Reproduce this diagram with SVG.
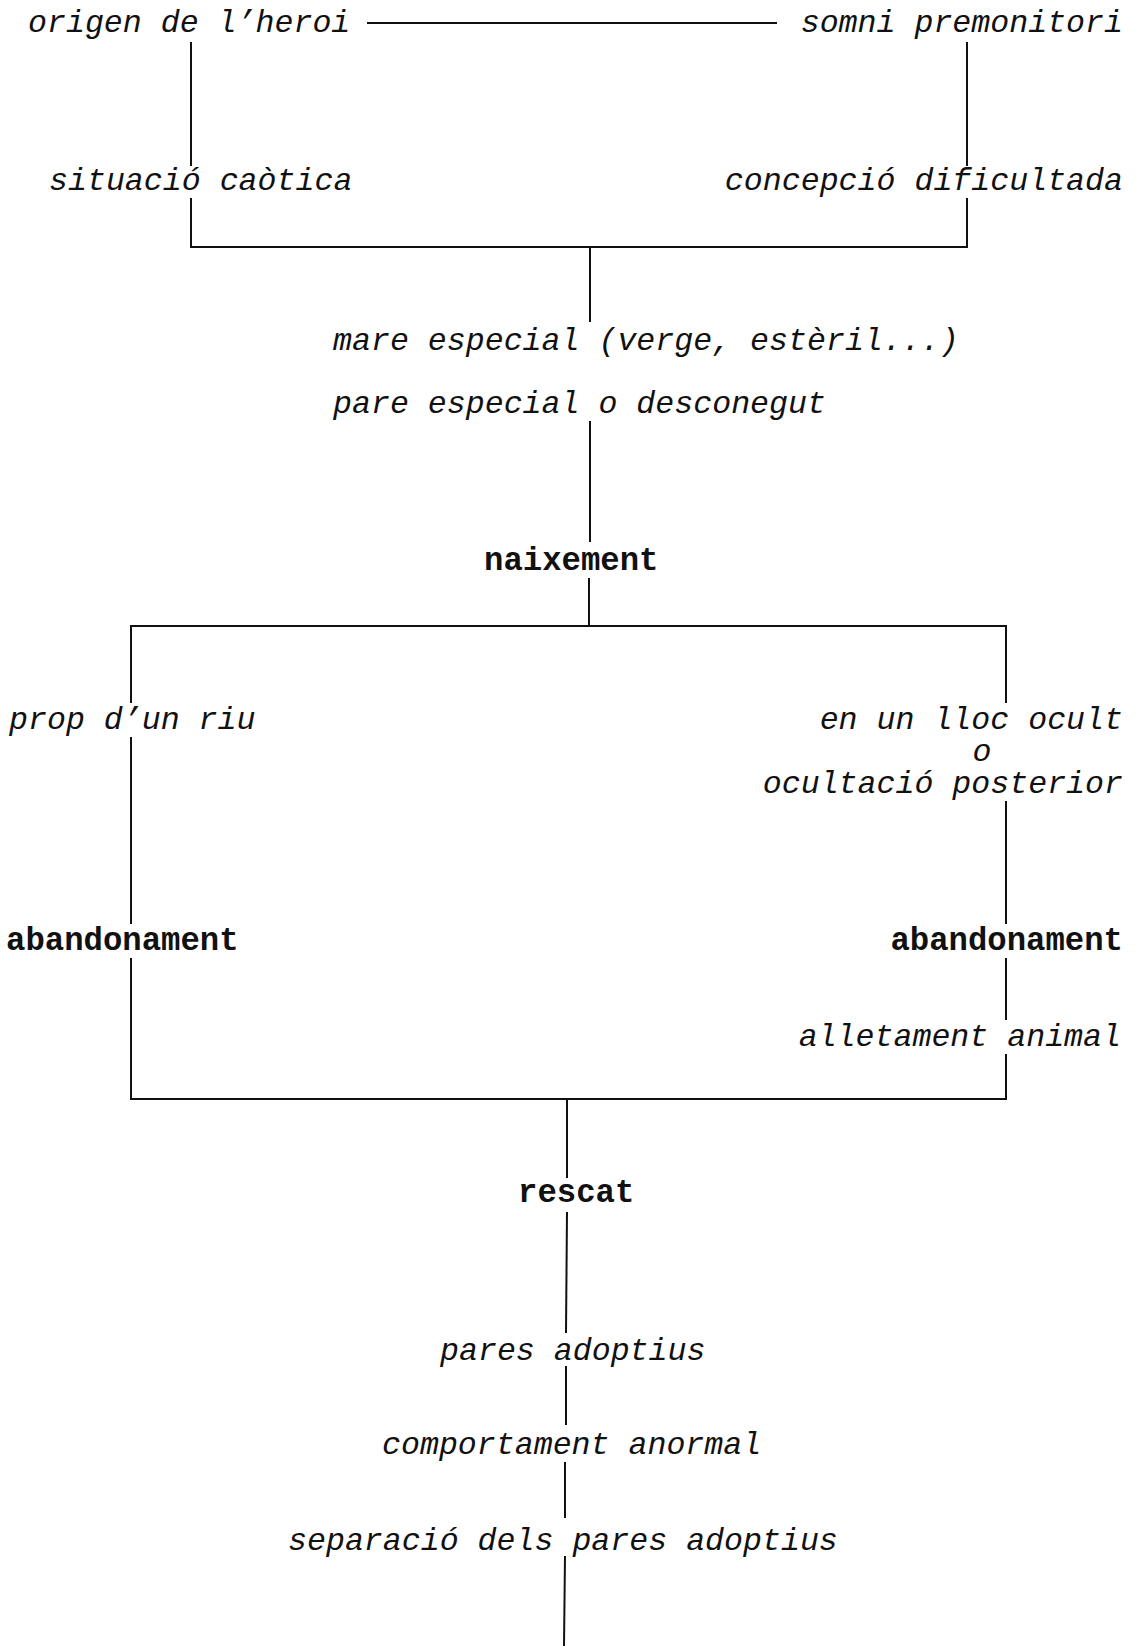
<svg xmlns="http://www.w3.org/2000/svg" width="1137" height="1646" viewBox="0 0 1137 1646">
<style>
text{font-family:"Liberation Mono","DejaVu Sans Mono",monospace;font-size:31.6px;fill:#111}
.i{font-style:italic}
.b{font-weight:bold;font-size:32.3px}
.e{text-anchor:end}
.m{text-anchor:middle}
#connectors line{stroke:#111;stroke-width:2}
</style>
<rect width="1137" height="1646" fill="#fff"/>
<g id="connectors">
<line x1="367" y1="23" x2="777" y2="23"/>
<line x1="191" y1="42" x2="191" y2="166"/>
<line x1="191" y1="198" x2="191" y2="248"/>
<line x1="967" y1="42" x2="967" y2="166"/>
<line x1="967" y1="198" x2="967" y2="248"/>
<line x1="190" y1="247" x2="968" y2="247"/>
<line x1="590" y1="247" x2="590" y2="322"/>
<line x1="590" y1="421" x2="590" y2="542"/>
<line x1="589" y1="578" x2="589" y2="626"/>
<line x1="130" y1="626" x2="1007" y2="626"/>
<line x1="131" y1="626" x2="131" y2="703"/>
<line x1="131" y1="737" x2="131" y2="924"/>
<line x1="131" y1="958" x2="131" y2="1100"/>
<line x1="1006" y1="626" x2="1006" y2="703"/>
<line x1="1006" y1="801" x2="1006" y2="924"/>
<line x1="1006" y1="958" x2="1006" y2="1020"/>
<line x1="1006" y1="1054" x2="1006" y2="1100"/>
<line x1="130" y1="1099" x2="1007" y2="1099"/>
<line x1="567" y1="1099" x2="567" y2="1178"/>
<line x1="567" y1="1212" x2="566" y2="1333"/>
<line x1="566" y1="1366" x2="566" y2="1425"/>
<line x1="565" y1="1462" x2="565" y2="1518"/>
<line x1="565" y1="1556" x2="564" y2="1646"/>
</g>
<g id="n-origen"><text class="i" x="28" y="32">origen de l’heroi</text></g>
<g id="n-somni"><text class="i e" x="1123" y="32">somni premonitori</text></g>
<g id="n-situacio"><text class="i" x="49" y="190">situació caòtica</text></g>
<g id="n-concepcio"><text class="i e" x="1123" y="190">concepció dificultada</text></g>
<g id="n-mare"><text class="i" x="333" y="350">mare especial (verge, estèril...)</text></g>
<g id="n-pare"><text class="i" x="333" y="413">pare especial o desconegut</text></g>
<g id="n-naixement"><text class="b" x="484" y="570">naixement</text></g>
<g id="n-riu"><text class="i" x="9" y="729">prop d’un riu</text></g>
<g id="n-ocult"><text class="i e" x="1123" y="729">en un lloc ocult</text><text class="i m" x="982" y="761">o</text><text class="i e" x="1123" y="793">ocultació posterior</text></g>
<g id="n-aband-l"><text class="b" x="6" y="950">abandonament</text></g>
<g id="n-aband-r"><text class="b e" x="1123" y="950">abandonament</text></g>
<g id="n-alletament"><text class="i e" x="1121" y="1046">alletament animal</text></g>
<g id="n-rescat"><text class="b" x="518" y="1202">rescat</text></g>
<g id="n-pares"><text class="i" x="440" y="1360">pares adoptius</text></g>
<g id="n-comportament"><text class="i" x="382" y="1454">comportament anormal</text></g>
<g id="n-separacio"><text class="i" x="288" y="1550">separació dels pares adoptius</text></g>
</svg>
